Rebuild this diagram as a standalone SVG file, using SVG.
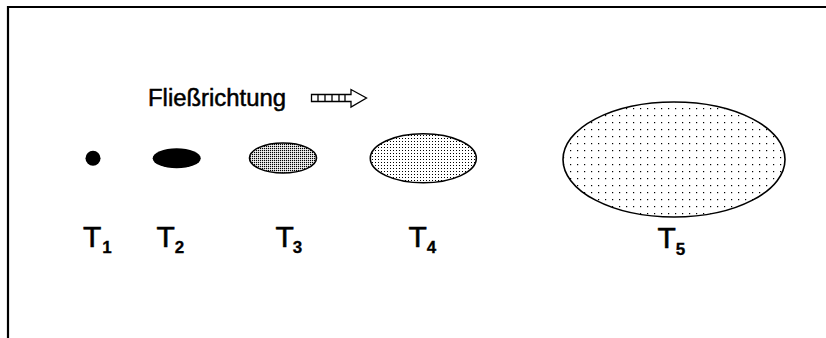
<svg xmlns="http://www.w3.org/2000/svg" width="826" height="338" viewBox="0 0 826 338">
<style>
.lbl{font-family:"Liberation Sans",Arial,sans-serif;font-size:30px;fill:#000;stroke:#000;stroke-width:0.6}
.sub{font-size:17px;font-weight:bold;stroke-width:0.3}
.ell{stroke:#000;stroke-width:1.6}
</style>
<defs>
<pattern id="p3" width="2" height="2" patternUnits="userSpaceOnUse"><rect width="2" height="2" fill="#fff"/><rect width="1.2" height="1.2" fill="#000"/></pattern>
<pattern id="p4" width="3" height="3" patternUnits="userSpaceOnUse"><rect width="3" height="3" fill="#fff"/><rect width="1" height="1" fill="#000"/></pattern>
<pattern id="p5" width="7" height="7" patternUnits="userSpaceOnUse"><rect width="7" height="7" fill="#fff"/><rect x="3" y="3" width="1.2" height="1.2" fill="#000"/></pattern>
</defs>
<rect width="826" height="338" fill="#fff"/>
<path d="M8,338 V7 H826" fill="none" stroke="#000" stroke-width="2.2"/>
<g id="flow">
<text x="148" y="106" font-family="'Liberation Sans',Arial,sans-serif" font-size="23.5" stroke="#000" stroke-width="0.5" textLength="138" lengthAdjust="spacingAndGlyphs">Fließrichtung</text>
<path d="M311.5,94.5 H351 V89.5 L366.5,98 L351,107 V101.5 H311.5 Z" fill="#fff" stroke="#000" stroke-width="1.3"/>
<path d="M318,94.5 V101.5 M325,94.5 V101.5 M332,94.5 V101.5 M339,94.5 V101.5 M345,94.5 V101.5" stroke="#000" stroke-width="1.3"/>
</g>
<g id="T1">
<circle cx="93" cy="158.3" r="7.5" fill="#000"/>
<text class="lbl" x="83" y="247">T<tspan class="sub" dx="1" dy="6">1</tspan></text>
</g>
<g id="T2">
<ellipse cx="176.7" cy="158.3" rx="24" ry="10" fill="#000"/>
<text class="lbl" x="156.5" y="247">T<tspan class="sub" dx="0" dy="6">2</tspan></text>
</g>
<g id="T3">
<ellipse class="ell" cx="283" cy="158" rx="33.5" ry="15" fill="url(#p3)"/>
<text class="lbl" x="275.5" y="247">T<tspan class="sub" dx="-1" dy="6">3</tspan></text>
</g>
<g id="T4">
<ellipse class="ell" cx="423.3" cy="158.3" rx="53" ry="24.5" fill="url(#p4)"/>
<text class="lbl" x="408.5" y="247">T<tspan class="sub" dx="0" dy="6">4</tspan></text>
</g>
<g id="T5">
<ellipse class="ell" cx="674" cy="159.5" rx="111" ry="57.5" fill="url(#p5)"/>
<text class="lbl" x="657.5" y="248">T<tspan class="sub" dx="0" dy="7">5</tspan></text>
</g>
</svg>
